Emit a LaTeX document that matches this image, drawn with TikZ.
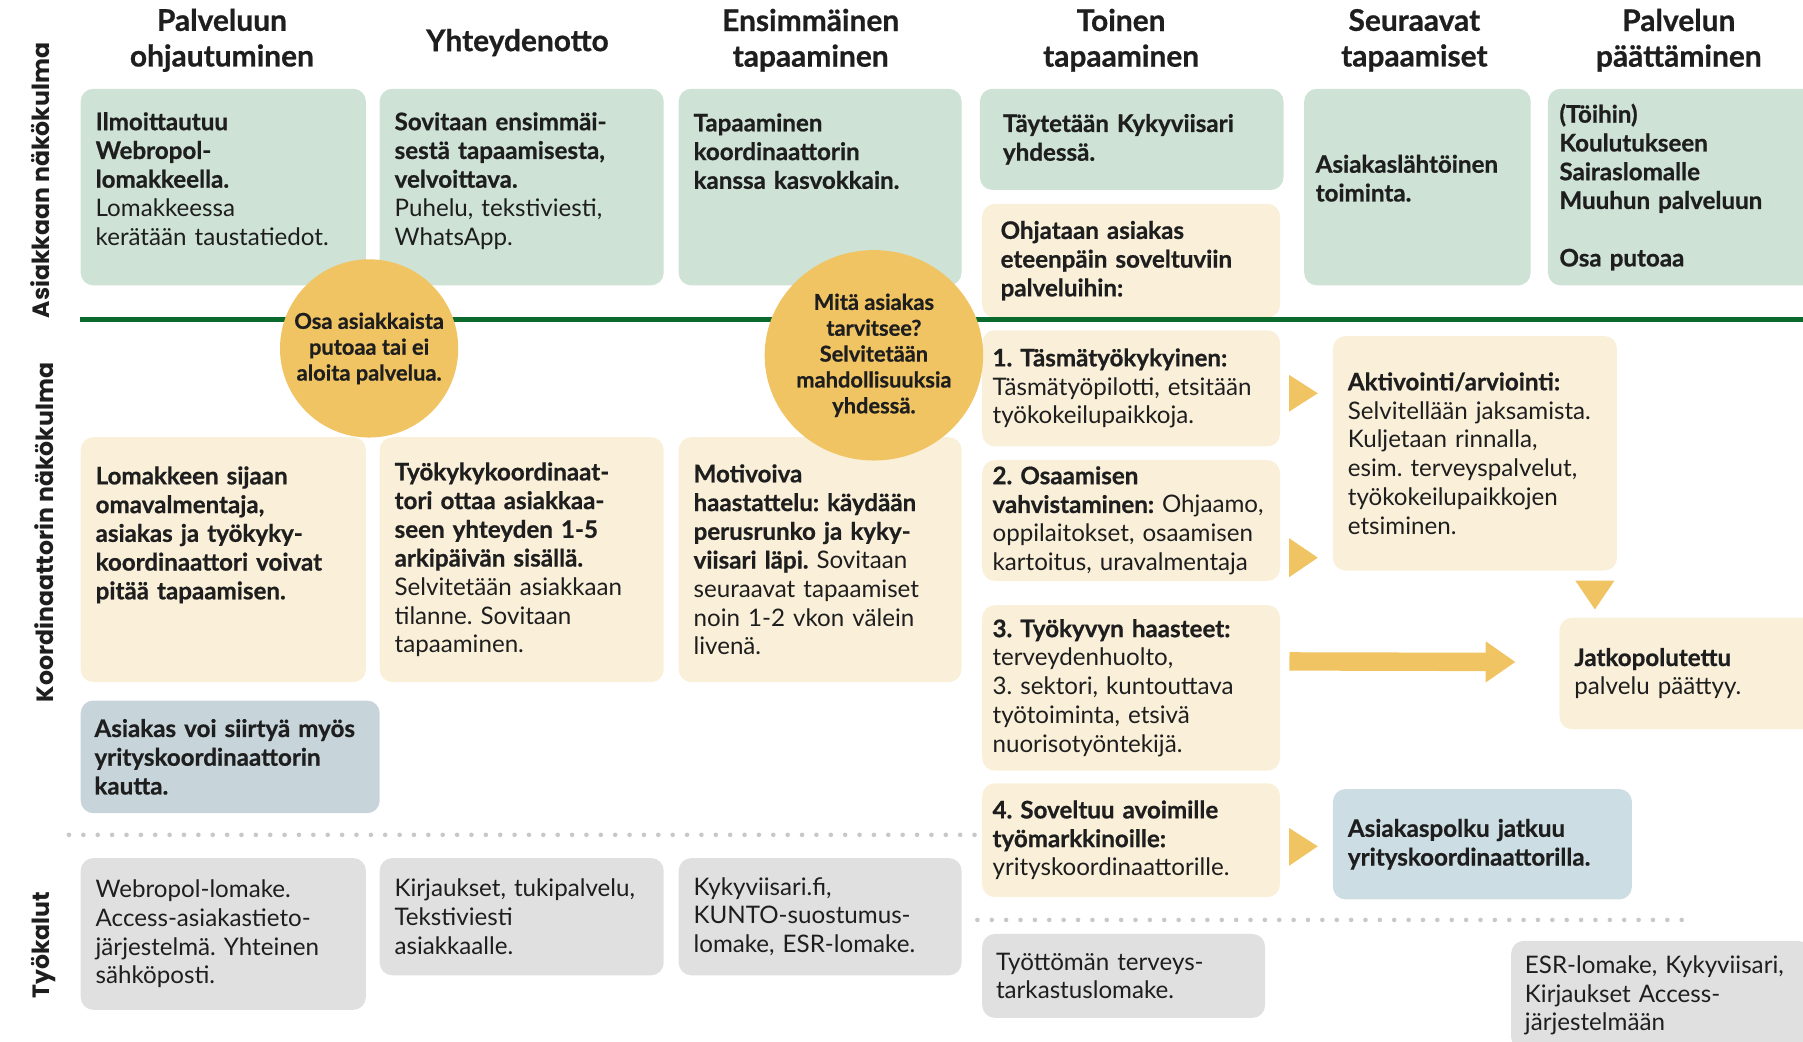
\documentclass[tikz,border=0pt]{standalone}
\usepackage{fontspec}
\setmainfont{Lato}[BoldFeatures={FakeBold=0.7}]
\newfontfamily\lanefont{Poppins}
\usetikzlibrary{shapes.geometric, arrows.meta}
\frenchspacing

\definecolor{sage}{RGB}{206,226,213}
\definecolor{cream}{RGB}{250,240,217}
\definecolor{sun}{RGB}{240,196,98}
\definecolor{toolgray}{RGB}{224,224,224}
\definecolor{paleblue}{RGB}{204,221,227}
\definecolor{stoneblue}{RGB}{199,213,219}
\definecolor{lanegreen}{RGB}{10,105,45}
\definecolor{dotgray}{RGB}{200,200,200}
\definecolor{ink}{RGB}{30,30,30}

\tikzset{%
    box/.style={rectangle, rounded corners=11pt, anchor=north west,
        inner xsep=13pt, inner ysep=0pt, align=left, text=ink,
        font=\fontsize{21}{25}\selectfont},
    greenbox/.style={box, fill=sage},
    creambox/.style={box, fill=cream},
    toolbox/.style={box, fill=toolgray},
    bluebox/.style={box, fill=paleblue},
    head/.style={align=center, text=ink, font=\bfseries\fontsize{26}{31}\selectfont},
    lanelabel/.style={rotate=90, text=ink, font=\lanefont\bfseries\fontsize{20.5}{25}\selectfont},
    bubble/.style={ellipse, fill=sun, inner xsep=-15pt, inner ysep=0pt, align=center, text=ink,
        font=\bfseries\fontsize{19}{22.5}\selectfont},
    dotline/.style={dotgray, line width=4pt, line cap=round, dash pattern=on 0pt off 12.5pt},
    fatarrow/.style={sun, line width=16pt, -{Triangle[length=26pt, width=34pt]}}
}

\begin{document}
\begin{tikzpicture}[x=1pt, y=-1pt]
  \useasboundingbox (0,0) rectangle (1568,906);
  \clip (0,0) rectangle (1568,906);

  \node (h1) [head] at (193,35) {Palveluun\\ohjautuminen};
  \node (h2) [head] at (450,37) {Yhteydenotto};
  \node (h3) [head] at (705,35) {Ensimmäinen\\tapaaminen};
  \node (h4) [head] at (975,35) {Toinen\\tapaaminen};
  \node (h5) [head] at (1230,35) {Seuraavat\\tapaamiset};
  \node (h6) [head] at (1460,35) {Palvelun\\päättäminen};

  \node (lane1) [lanelabel] at (35,157) {Asiakkaan näkökulma};
  \node (lane2) [lanelabel] at (38,463) {Koordinaattorin näkökulma};
  \node (lane3) [lanelabel] at (38,822) {Työkalut};

  % asiakkaan rivi
  \node (g1) [greenbox, text width=222pt, text height=36pt, text depth=135pt] at (70,77)
    {\textbf{Ilmoittautuu}\\\textbf{Webropol-}\\\textbf{lomakkeella.}\\Lomakkeessa\\kerätään taustatiedot.};
  \node (g2) [greenbox, text width=221pt, text height=36pt, text depth=135pt] at (330,77)
    {\textbf{Sovitaan ensimmäi-}\\\textbf{sestä tapaamisesta,}\\\textbf{velvoittava.}\\Puhelu, tekstiviesti,\\WhatsApp.};
  \node (g3) [greenbox, text width=220pt, text height=37pt, text depth=134pt] at (590,77)
    {\textbf{Tapaaminen}\\\textbf{koordinaattorin}\\\textbf{kanssa kasvokkain.}};
  \node (g4) [greenbox, inner xsep=20pt, text width=224pt, minimum height=88pt] at (852,77)
    {\textbf{Täytetään Kykyviisari}\\\textbf{yhdessä.}};
  \node (ohj) [creambox, inner xsep=16pt, text width=227pt, minimum height=99pt] at (854,177)
    {\textbf{Ohjataan asiakas}\\\textbf{eteenpäin soveltuviin}\\\textbf{palveluihin:}};
  \node (g5) [greenbox, inner xsep=10pt, text width=177pt, text height=73pt, text depth=98pt] at (1134,77)
    {\textbf{Asiakaslähtöinen}\\\textbf{toiminta.}};
  \node (g6) [greenbox, inner xsep=10pt, text width=220pt, minimum height=171pt] at (1346,77)
    {\textbf{(Töihin)}\\\textbf{Koulutukseen}\\\textbf{Sairaslomalle}\\\textbf{Muuhun palveluun}\\[25pt]\textbf{Osa putoaa}};

  % koordinaattorin rivi
  \node (y1) [creambox, text width=222pt, text height=41pt, text depth=172pt] at (70,380)
    {\textbf{Lomakkeen sijaan}\\\textbf{omavalmentaja,}\\\textbf{asiakas ja työkyky-}\\\textbf{koordinaattori voivat}\\\textbf{pitää tapaamisen.}};
  \node (y2) [creambox, text width=221pt, minimum height=213pt] at (330,380)
    {\textbf{Työkykykoordinaat-}\\\textbf{tori ottaa asiakkaa-}\\\textbf{seen yhteyden 1-5}\\\textbf{arkipäivän sisällä.}\\Selvitetään asiakkaan\\tilanne. Sovitaan\\tapaaminen.};
  \node (y3) [creambox, text width=220pt, minimum height=213pt] at (590,380)
    {\textbf{Motivoiva}\\\textbf{haastattelu: käydään}\\\textbf{perusrunko ja kyky-}\\\textbf{viisari läpi.} Sovitaan\\seuraavat tapaamiset\\noin 1-2 vkon välein\\livenä.};
  \node (alt) [box, fill=stoneblue, inner xsep=12pt, text width=236pt, minimum height=98pt] at (70,609)
    {\textbf{Asiakas voi siirtyä myös}\\\textbf{yrityskoordinaattorin}\\\textbf{kautta.}};

  \node (r1) [creambox, inner xsep=9pt, text width=241pt, minimum height=101pt] at (854,287)
    {\textbf{1. Täsmätyökykyinen:}\\Täsmätyöpilotti, etsitään\\työkokeilupaikkoja.};
  \node (r2) [creambox, inner xsep=9pt, text width=241pt, minimum height=105pt] at (854,400)
    {\textbf{2. Osaamisen}\\\textbf{vahvistaminen:} Ohjaamo,\\oppilaitokset, osaamisen\\kartoitus, uravalmentaja};
  \node (r3) [creambox, inner xsep=9pt, text width=241pt, minimum height=144pt] at (854,526)
    {\textbf{3. Työkyvyn haasteet:}\\terveydenhuolto,\\3. sektori, kuntouttava\\työtoiminta, etsivä\\nuorisotyöntekijä.};
  \node (r4) [creambox, inner xsep=9pt, text width=241pt, minimum height=99pt] at (854,681)
    {\textbf{4. Soveltuu avoimille}\\\textbf{työmarkkinoille:}\\yrityskoordinaattorille.};
  \node (akt) [creambox, text width=221pt, minimum height=204pt] at (1159,292)
    {\textbf{Aktivointi/arviointi:}\\Selvitellään jaksamista.\\Kuljetaan rinnalla,\\esim. terveyspalvelut,\\työkokeilupaikkojen\\etsiminen.};
  \node (jatko) [creambox, text width=214pt, minimum height=97pt] at (1356,537)
    {\textbf{Jatkopolutettu}\\palvelu päättyy.};
  \node (cont) [bluebox, text width=234pt, minimum height=96pt] at (1159,686)
    {\textbf{Asiakaspolku jatkuu}\\\textbf{yrityskoordinaattorilla.}};

  % tyokalut
  \node (t1) [toolbox, text width=222pt, minimum height=132pt] at (70,746)
    {Webropol-lomake.\\Access-asiakastieto-\\järjestelmä. Yhteinen\\sähköposti.};
  \node (t2) [toolbox, text width=221pt, minimum height=102pt] at (330,746)
    {Kirjaukset, tukipalvelu,\\Tekstiviesti\\asiakkaalle.};
  \node (t3) [toolbox, text width=220pt, minimum height=102pt] at (590,746)
    {Kykyviisari.fi,\\KUNTO-suostumus-\\lomake, ESR-lomake.};
  \node (t4) [toolbox, inner xsep=12pt, text width=222pt, minimum height=73pt] at (854,812)
    {Työttömän terveys-\\tarkastuslomake.};
  \node (t5) [toolbox, inner xsep=12pt, text width=236pt, minimum height=95pt] at (1314,818)
    {ESR-lomake, Kykyviisari,\\Kirjaukset Access-\\järjestelmään};

  \draw [lanegreen, line width=4pt] (70,278) -- (1568,278);
  \draw [dotline] (60,726) -- (848,726);
  \draw [dotline] (850,800) -- (1466,800);

  \node (drop) [bubble, minimum width=155pt, minimum height=155pt] at (321,303)
    {Osa asiakkaista\\putoaa tai ei\\aloita palvelua.};
  \node (need) [bubble, minimum width=190pt, minimum height=183pt] at (760,309)
    {Mitä asiakas\\tarvitsee?\\Selvitetään\\mahdollisuuksia\\yhdessä.};

  \fill [sun] (1121,326) -- (1146,342) -- (1121,358) -- cycle;
  \fill [sun] (1121,468) -- (1146,485) -- (1121,502) -- cycle;
  \fill [sun] (1121,720) -- (1146,736) -- (1121,753) -- cycle;
  \fill [sun] (1370,505) -- (1404,505) -- (1387,530) -- cycle;
  \draw [fatarrow] ([xshift=8pt, yshift=23pt]r3.east) -- ([xshift=-38pt, yshift=10pt]jatko.west);
\end{tikzpicture}
\end{document}
